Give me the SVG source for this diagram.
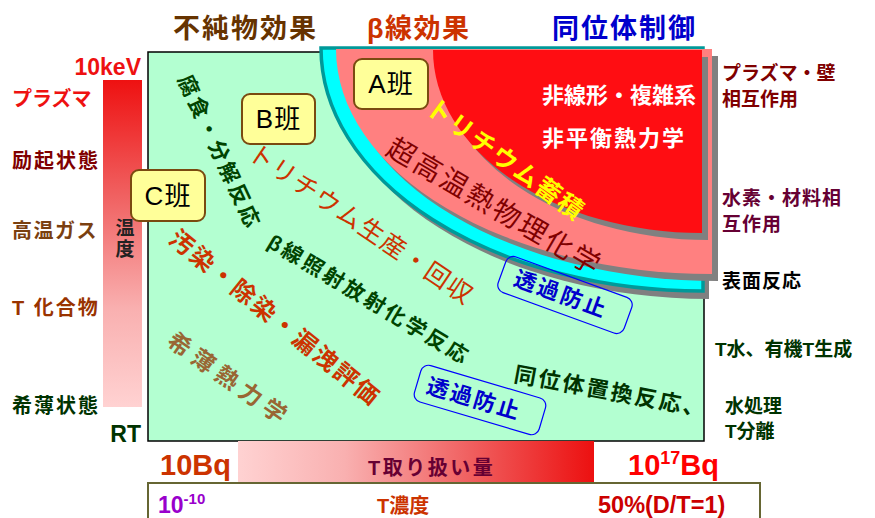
<svg xmlns="http://www.w3.org/2000/svg" width="875" height="518" viewBox="0 0 875 518">
<defs>
<linearGradient id="gTemp" x1="0" y1="0" x2="0" y2="1">
<stop offset="0" stop-color="#ee1111"/><stop offset="0.35" stop-color="#f06060"/><stop offset="0.7" stop-color="#f9b0b0"/><stop offset="1" stop-color="#ffd2d2"/>
</linearGradient>
<linearGradient id="gAmt" x1="0" y1="0" x2="1" y2="0">
<stop offset="0" stop-color="#ffd2d2"/><stop offset="0.3" stop-color="#f9b0b0"/><stop offset="0.65" stop-color="#f06060"/><stop offset="1" stop-color="#ec1010"/>
</linearGradient>
<path id="cyanShape" d="M 321 48 L 703 48 L 703 291 A 382 243 0 0 1 321 48 Z"/>
<path id="pinkShape" d="M 336 49 L 712 49 L 712 274 A 376 225 0 0 1 336 49 Z"/>
<path id="redShape" d="M 433 50 L 702 50 L 702 233 A 269 183 0 0 1 433 50 Z"/>
</defs>
<style>
text{font-family:'Liberation Sans','Noto Sans CJK JP',sans-serif;}
.b{font-weight:bold;}
.title{font-size:27px;font-weight:bold;letter-spacing:2px;}
.left{font-size:20px;font-weight:bold;}
.right{font-size:19px;font-weight:bold;}
.team rect{fill:#ffff99;stroke:#7a4a10;stroke-width:2;}
.team text{font-size:26px;fill:#000;text-anchor:middle;letter-spacing:1px;}
.shadow{fill:#808080;}
.stop rect{fill:none;stroke:#0000ff;stroke-width:1.2;}
.stop text{font-size:22px;font-weight:bold;fill:#0000cc;text-anchor:middle;letter-spacing:2.5px;}
.rot{text-anchor:middle;}
</style>

<g id="titles">
<text class="title" x="173" y="38" fill="#663300">不純物効果</text>
<text class="title" x="367" y="38" fill="#cc3300" style="letter-spacing:1.5px">β線効果</text>
<text class="title" x="552" y="38" fill="#0000cc">同位体制御</text>
</g>

<g id="temperature-axis">
<rect x="103" y="80" width="39" height="327" fill="url(#gTemp)"/>
<text x="141" y="75" class="b" font-size="23" fill="#ee1111" text-anchor="end">10keV</text>
<text x="125" y="235" font-size="19" font-weight="bold" fill="#222" text-anchor="middle">温</text>
<text x="125" y="256" font-size="19" font-weight="bold" fill="#222" text-anchor="middle">度</text>
<text x="141" y="442" class="b" font-size="23" fill="#003300" text-anchor="end">RT</text>
<text class="left" x="12" y="106" fill="#ee1111">プラズマ</text>
<text class="left" x="12" y="168" fill="#800000" letter-spacing="2">励起状態</text>
<text class="left" x="12" y="238" fill="#7a4010" letter-spacing="1.5">高温ガス</text>
<text class="left" x="12" y="315" fill="#993300" letter-spacing="2">T 化合物</text>
<text class="left" x="12" y="413" fill="#003300" letter-spacing="2">希薄状態</text>
</g>

<g id="field">
<rect x="148" y="52" width="556" height="389" fill="#b3ffd1" stroke="#000" stroke-width="1.5"/>
</g>

<g id="high-temp-region">
<use href="#cyanShape" class="shadow" transform="translate(6,8)"/>
<use href="#cyanShape" fill="#00ffff" stroke="#009999" stroke-width="3.5"/>
<use href="#pinkShape" class="shadow" transform="translate(6,7)"/>
<use href="#pinkShape" fill="#ff8080"/>
<use href="#redShape" class="shadow" transform="translate(6,7)"/>
<use href="#redShape" fill="#ff0d12"/>
<text x="542" y="103" class="b" font-size="22" fill="#fff">非線形・複雑系</text>
<text x="542" y="146" class="b" font-size="22" fill="#fff" letter-spacing="2">非平衡熱力学</text>
<text class="rot b" transform="translate(506,159) rotate(36)" dy="0.38em" font-size="25" fill="#ffff00" letter-spacing="2">トリチウム蓄積</text>
<text class="rot" transform="translate(495,206) rotate(30.4)" dy="0.38em" font-size="28" fill="#800000" letter-spacing="2.5">超高温熱物理化学</text>
</g>

<g id="teamA" class="team">
<rect x="354" y="59" width="74" height="50" rx="8"/>
<text x="391" y="93">A班</text>
</g>
<g id="teamB" class="team">
<rect x="242" y="94" width="73" height="50" rx="8"/>
<text x="278.5" y="128">B班</text>
</g>
<g id="teamC" class="team">
<rect x="131" y="170" width="74" height="51" rx="8"/>
<text x="168" y="205">C班</text>
</g>

<g id="topics">
<text class="rot b" transform="translate(220,152) rotate(65)" dy="0.38em" font-size="21" fill="#004400" letter-spacing="3">腐食・分解反応</text>
<text class="rot" transform="translate(361.5,223.5) rotate(34)" dy="0.38em" font-size="25" fill="#cc3300" letter-spacing="1.5">トリチウム生産・回収</text>
<text class="rot b" transform="translate(369.5,299) rotate(31)" dy="0.38em" font-size="21" fill="#004400" letter-spacing="3">β線照射放射化学反応</text>
<text class="rot b" transform="translate(275.5,317.5) rotate(39)" dy="0.38em" font-size="24" fill="#cc3300" letter-spacing="2.4">汚染・除染・漏洩評価</text>
<text class="rot b" transform="translate(230,379) rotate(35)" dy="0.38em" font-size="23" fill="#996633" letter-spacing="6">希薄熱力学</text>
<text class="rot b" transform="translate(611,391) rotate(10.5)" dy="0.38em" font-size="22" fill="#003300" letter-spacing="2.5">同位体置換反応、</text>
</g>

<g id="permeation-1" class="stop" transform="translate(565,295) rotate(20)">
<rect x="-67" y="-19" width="134" height="38" rx="8"/>
<text x="-4" y="0" dy="0.38em">透過防止</text>
</g>
<g id="permeation-2" class="stop" transform="translate(480,400) rotate(16.5)">
<rect x="-65" y="-19" width="130" height="38" rx="8"/>
<text x="-6" y="0" dy="0.38em">透過防止</text>
</g>

<g id="right-labels">
<text class="right" x="722" y="80" fill="#800000">プラズマ・壁</text>
<text class="right" x="722" y="106" fill="#800000">相互作用</text>
<text class="right" x="722" y="205" fill="#660033" letter-spacing="1">水素・材料相</text>
<text class="right" x="722" y="231" fill="#660033" letter-spacing="1">互作用</text>
<text class="right" x="722" y="288" fill="#000" font-size="20" letter-spacing="1">表面反応</text>
<text class="right" x="715" y="356" fill="#003300">T水、有機T生成</text>
<text class="right" x="725" y="413" fill="#003300">水処理</text>
<text class="right" x="725" y="438" fill="#003300">T分離</text>
</g>

<g id="amount-axis">
<rect x="238" y="441" width="356" height="42" fill="url(#gAmt)"/>
<text x="160" y="475" class="b" font-size="29" fill="#cc3300">10Bq</text>
<text x="368" y="475" font-size="20" font-weight="bold" fill="#660033" letter-spacing="2.5">T取り扱い量</text>
<text x="628" y="475" class="b" font-size="29" fill="#ff0000">10<tspan font-size="18" dy="-11">17</tspan><tspan dy="11">Bq</tspan></text>
</g>

<g id="concentration-axis">
<rect x="148" y="483" width="612" height="45" fill="#fff" stroke="#666633" stroke-width="2"/>
<text x="158" y="513" class="b" font-size="23" fill="#9900cc">10<tspan font-size="15" dy="-9">-10</tspan></text>
<text x="377" y="513" class="b" font-size="20" fill="#cc3300">T濃度</text>
<text x="598" y="513" class="b" font-size="23.5" fill="#cc0000">50%(D/T=1)</text>
</g>
</svg>
